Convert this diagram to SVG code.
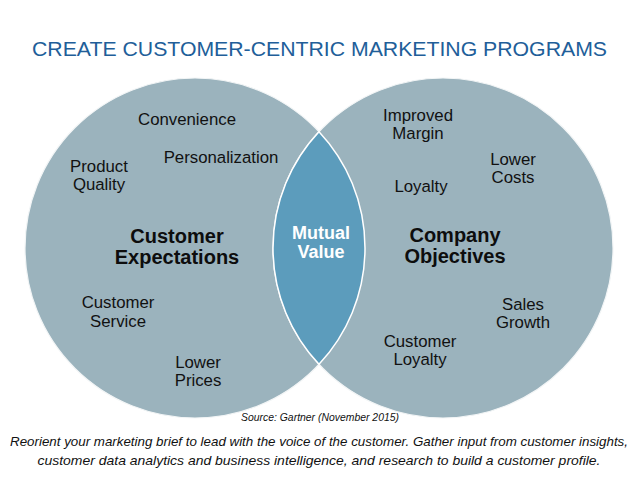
<svg xmlns="http://www.w3.org/2000/svg" width="638" height="479" viewBox="0 0 638 479">
<style>
.circle{fill:#9BB3BD;stroke:#F2F5F6;stroke-width:1.2}
.lens{fill:#5C9CBC;stroke:#FFFFFF;stroke-width:1.5}
.lbl{font-family:"Liberation Sans",Arial,sans-serif;font-size:16.8px;fill:#111111;text-anchor:middle}
.big{font-family:"Liberation Sans",Arial,sans-serif;font-size:20px;font-weight:bold;fill:#0D0D0D;text-anchor:middle}
.mid{font-family:"Liberation Sans",Arial,sans-serif;font-size:18px;font-weight:bold;fill:#FFFFFF;text-anchor:middle}
.title{font-family:"Liberation Sans",Arial,sans-serif;font-size:21px;fill:#215E99;text-anchor:middle}
.note{font-family:"Liberation Sans",Arial,sans-serif;font-style:italic;fill:#111111;text-anchor:middle}
</style>
<rect width="638" height="479" fill="#FFFFFF"/>
<text class="title" x="319.5" y="56" textLength="575" lengthAdjust="spacingAndGlyphs">CREATE CUSTOMER-CENTRIC MARKETING PROGRAMS</text>
<g id="customer-expectations">
<circle class="circle" cx="195" cy="248" r="170"/>
<text class="lbl" x="187" y="125">Convenience</text>
<text class="lbl" x="221" y="163">Personalization</text>
<text class="lbl" x="99" y="172">Product</text>
<text class="lbl" x="99" y="190">Quality</text>
<text class="big" x="177" y="243">Customer</text>
<text class="big" x="177" y="264">Expectations</text>
<text class="lbl" x="118" y="308">Customer</text>
<text class="lbl" x="118" y="327">Service</text>
<text class="lbl" x="198" y="368">Lower</text>
<text class="lbl" x="198" y="386">Prices</text>
</g>
<g id="company-objectives">
<circle class="circle" cx="443" cy="248" r="170"/>
<text class="lbl" x="418" y="121">Improved</text>
<text class="lbl" x="418" y="139">Margin</text>
<text class="lbl" x="513" y="165">Lower</text>
<text class="lbl" x="513" y="183">Costs</text>
<text class="lbl" x="421" y="192">Loyalty</text>
<text class="big" x="455" y="242">Company</text>
<text class="big" x="455" y="263">Objectives</text>
<text class="lbl" x="523" y="310">Sales</text>
<text class="lbl" x="523" y="328">Growth</text>
<text class="lbl" x="420" y="347">Customer</text>
<text class="lbl" x="420" y="365">Loyalty</text>
</g>
<g id="mutual-value">
<path class="lens" d="M319,131.7 A170,170 0 0,1 319,364.3 A170,170 0 0,1 319,131.7 Z"/>
<text class="mid" x="321" y="239">Mutual</text>
<text class="mid" x="321" y="258">Value</text>
</g>
<text class="note" x="320" y="421" font-size="11" fill="#222222" textLength="158" lengthAdjust="spacingAndGlyphs">Source: Gartner (November 2015)</text>
<text class="note" x="319" y="446" font-size="13" textLength="618" lengthAdjust="spacingAndGlyphs">Reorient your marketing brief to lead with the voice of the customer. Gather input from customer insights,</text>
<text class="note" x="319" y="465" font-size="13" textLength="563" lengthAdjust="spacingAndGlyphs">customer data analytics and business intelligence, and research to build a customer profile.</text>
</svg>
